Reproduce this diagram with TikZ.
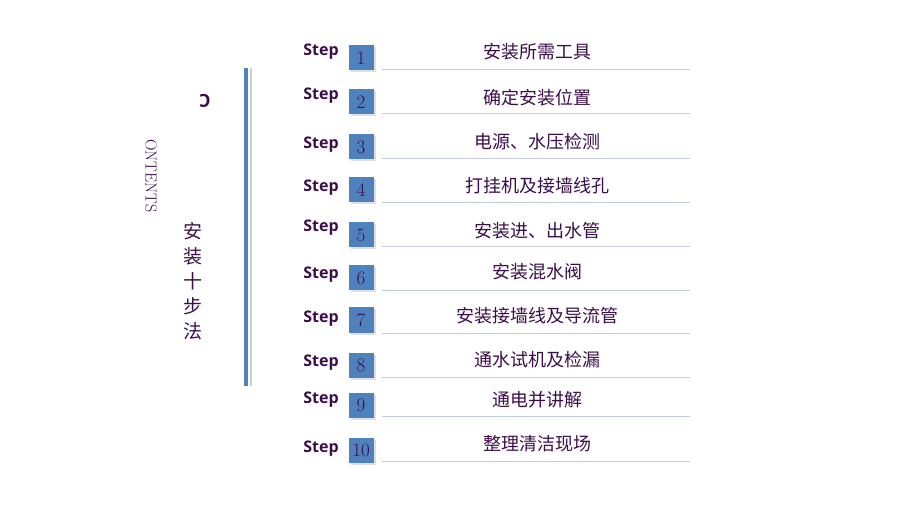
\documentclass[tikz,border=0pt]{standalone}
\usepackage{fontspec}
\usetikzlibrary{shadows}
\newfontfamily\cjk{Noto Sans CJK SC}
\setsansfont{Open Sans}
\definecolor{tx}{HTML}{3A0E48}
\definecolor{bx}{HTML}{4F81BD}
\definecolor{ln}{HTML}{C4CCE4}
\begin{document}
\begin{tikzpicture}[x=1pt,y=-1pt,
  steplbl/.style={font=\sffamily\bfseries\fontsize{16}{16}\selectfont,text=tx,anchor=center},
  numbox/.style={fill=bx,minimum width=25pt,minimum height=25pt,inner sep=0pt,text=tx,font=\fontsize{19}{19}\selectfont,drop shadow={opacity=0.25,shadow xshift=2pt,shadow yshift=-2pt}},
  title/.style={font=\cjk\fontsize{18}{18}\selectfont,text=tx},
  sep/.style={ln,line width=0.9pt}]
\useasboundingbox (0,0) rectangle (920,518);
\draw[bx,line width=4pt] (245.5,68) -- (245.5,386);
\draw[ln,line width=1.2pt] (251,68) -- (251,386);
\node[text=tx,font=\sffamily\bfseries\fontsize{18}{18}\selectfont,rotate=180] (c) at (205,101) {C};
\node[text=tx,font=\fontsize{16}{16}\selectfont,rotate=-90] (on) at (151,176) {ONTENTS};
\node[title,align=center,font=\cjk\fontsize{19}{25}\selectfont] (az) at (193,281) {安\\装\\十\\步\\法};
\foreach \i/\sy/\by/\ty/\ly/\t in {
 1/52/58/52/69/安装所需工具,
 2/96/102/98/113/确定安装位置,
 3/145/147/142/158/电源、水压检测,
 4/188/190/186/202/打挂机及接墙线孔,
 5/228/235/231/246/安装进、出水管,
 6/275/278/272/290/安装混水阀,
 7/319/320/316/333/安装接墙线及导流管,
 8/363/365/360/377/通水试机及检漏,
 9/400/405/400/416/通电并讲解,
 10/449/450/444/461/整理清洁现场}{
 \node[steplbl] (s\i) at (321,\sy) {Step};
 \node[numbox] (n\i) at (361,\by) {\i};
 \node[title] (t\i) at (537,\ty) {\t};
 \coordinate (la\i) at (382,\ly);
 \coordinate (lb\i) at (690,\ly);
 \draw[sep] (la\i) -- (lb\i);
}
\end{tikzpicture}
\end{document}
